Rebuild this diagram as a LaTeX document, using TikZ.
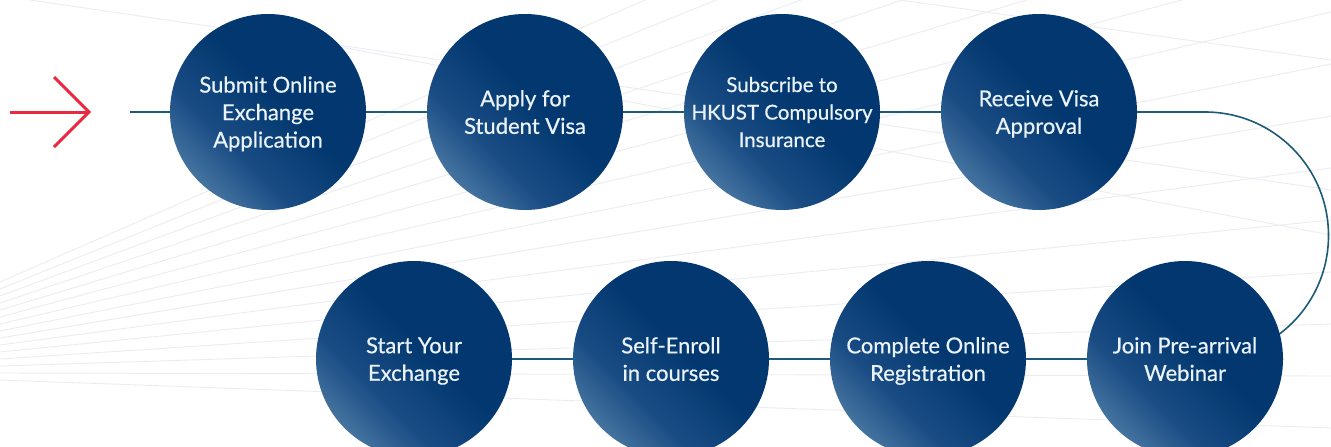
\documentclass[tikz,border=0pt]{standalone}
\usepackage{fontspec}
\setmainfont{Lato}
\newfontfamily\stagefont{Lato}[FakeBold=0.5]
\usetikzlibrary{positioning, backgrounds}

\definecolor{navy}{HTML}{02386F}
\definecolor{midnavy}{HTML}{1A4C84}
\definecolor{lightnavy}{HTML}{44739F}
\definecolor{pathline}{HTML}{1B5A78}
\definecolor{arrowred}{HTML}{E8293F}
\definecolor{faint}{HTML}{EBEBF2}
\definecolor{textwhite}{HTML}{EAF2FA}

\pgfdeclareverticalshading{stageshade}{100bp}{color(0bp)=(lightnavy); color(25bp)=(lightnavy);
  color(37bp)=(midnavy); color(54bp)=(navy); color(100bp)=(navy)}

\tikzset{
  stage/.style={circle, minimum size=196pt, inner sep=-20pt, align=center,
    shade, shading=stageshade, shading angle=-45, text depth=0pt,
    text=textwhite, font=\stagefont\fontsize{22}{27.5}\selectfont},
  flow/.style={pathline, line width=1.6pt},
  bgline/.style={faint, line width=0.9pt}
}

\begin{document}
\begin{tikzpicture}[x=1pt, y=-1pt, node distance=257pt, on grid]
            \clip (0,0) rectangle (1331,447);

            \node [stage] (s1) at (268,112) {Submit Online\\Exchange\\Application};
            \node [stage, right=of s1] (s2) {Apply for\\Student Visa};
            \node [stage, right=of s2, font=\stagefont\fontsize{20.5}{27.5}\selectfont] (s3) {Subscribe to\\HKUST Compulsory\\Insurance};
            \node [stage, right=of s3] (s4) {Receive Visa\\Approval};

            \node [stage] (s5) at (1185,359) {Join Pre-arrival\\Webinar};
            \node [stage, left=of s5] (s6) {Complete Online\\Registration};
            \node [stage, left=of s6] (s7) {Self-Enroll\\in courses};
            \node [stage, left=of s7] (s8) {Start Your\\Exchange};

            \coordinate (start) at (130,112);
            \coordinate (turn) at (1205,112);

            \begin{pgfonlayer}{background}
                % faint fan in the back
                \foreach \i in {0,...,14}
                    \draw [bgline] (0,{282+7*\i}) -- (1331,{-300+52*\i});
                \draw [bgline] (30,0) -- (1331,190);
                \draw [bgline] (330,45) -- (1331,235);
                \draw [bgline] (900,0) -- (1331,60);

                \draw [flow] (start) -- (s1) -- (s2) -- (s3) -- (s4) -- (turn)
                    arc (-90:90:123.5) -- (s5) -- (s6) -- (s7) -- (s8);
            \end{pgfonlayer}

            % red arrow on the left
            \draw [arrowred, line width=3pt] (10,112) -- (88,112);
            \draw [arrowred, line width=3pt] (54,77) -- (89,112) -- (54,147);
        \end{tikzpicture}
\end{document}
